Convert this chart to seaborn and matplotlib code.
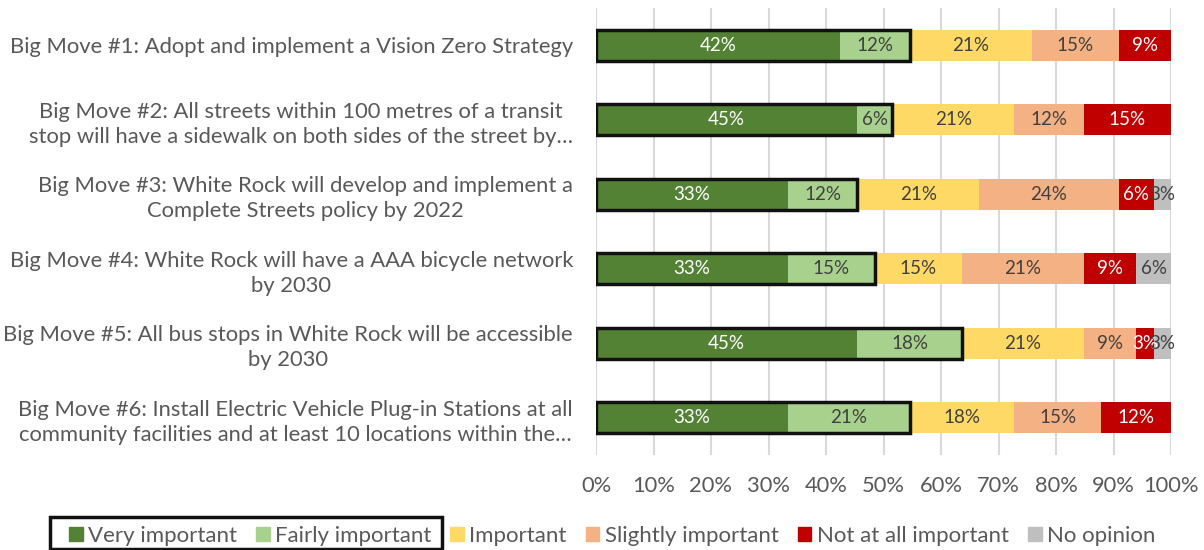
import numpy as np
import pandas as pd
import matplotlib
matplotlib.use("Agg")
import matplotlib.pyplot as plt
from matplotlib.patches import Patch, Rectangle
import seaborn as sns

moves = [
    "Big Move #1: Adopt and implement a Vision Zero Strategy",
    "Big Move #2: All streets within 100 metres of a transit\nstop will have a sidewalk on both sides of the street by…",
    "Big Move #3: White Rock will develop and implement a\nComplete Streets policy by 2022",
    "Big Move #4: White Rock will have a AAA bicycle network\nby 2030",
    "Big Move #5: All bus stops in White Rock will be accessible\nby 2030",
    "Big Move #6: Install Electric Vehicle Plug-in Stations at all\ncommunity facilities and at least 10 locations within the…",
]
levels = ["Very important", "Fairly important", "Important",
          "Slightly important", "Not at all important", "No opinion"]

very = [42.42, 45.45, 33.33, 33.33, 45.45, 33.33]
fairly = [12.12, 6.06, 12.12, 15.15, 18.18, 21.21]
important = [21.21, 21.21, 21.21, 15.15, 21.21, 18.18]
slightly = [15.15, 12.12, 24.24, 21.21, 9.09, 15.15]
not_at_all = [9.09, 15.15, 6.06, 9.09, 3.03, 12.12]
no_opinion = [0.0, 0.0, 3.03, 6.06, 3.03, 0.0]

colors = ["#548235", "#A9D18E", "#FFD966", "#F4B183", "#C00000", "#BFBFBF"]
text_colors = ["white", "#404040", "#404040", "#404040", "white", "#404040"]

sns.set_theme(style="white")
plt.rcParams["font.family"] = ["Lato", "DejaVu Sans"]

df = pd.DataFrame(dict(zip(levels, [very, fairly, important, slightly, not_at_all, no_opinion])),
                  index=moves)
cum = df.cumsum(axis=1)

fig = plt.figure(figsize=(12.04, 5.5), dpi=100)
ax = fig.add_axes([596 / 1204, 1 - 455 / 550, 575 / 1204, 447 / 550])

bar_h = 0.41
# draw cumulative totals back to front so each level shows as its own segment
for lvl, col in reversed(list(zip(levels, colors))):
    sns.barplot(x=cum[lvl].values, y=moves, color=col, saturation=1,
                width=bar_h, orient="h", ax=ax, linewidth=0)

for i, move in enumerate(moves):
    left = 0
    for lvl, tc in zip(levels, text_colors):
        v = df.loc[move, lvl]
        if v > 0:
            ax.text(left + v / 2, i, f"{v:.0f}%", ha="center", va="center",
                    color=tc, fontsize=13.5)
        left += v
    ax.add_patch(Rectangle((0, i - bar_h / 2), df.loc[move, levels[0]] + df.loc[move, levels[1]],
                           bar_h, fill=False, ec="#111111", lw=2.5, zorder=5))

ax.set_xlim(0, 100)
ax.set_ylim(5.5, -0.5)
ax.set_xticks(np.arange(0, 101, 10))
ax.set_xticklabels([f"{t}%" for t in range(0, 101, 10)])
ax.xaxis.grid(True, color="#D9D9D9", lw=1.5)
ax.set_axisbelow(True)
sns.despine(ax=ax, left=True, bottom=True)
ax.tick_params(axis="x", length=0, pad=15, labelsize=15.75, labelcolor="#595959")
ax.tick_params(axis="y", length=0, pad=16.5, labelsize=15.8, labelcolor="#595959")
for t in ax.get_yticklabels():
    t.set_multialignment("center")
    t.set_linespacing(1.3)
ax.set_xlabel("")
ax.set_ylabel("")

handles = [Patch(color=c) for c in colors]
leg_kw = dict(loc="center left", frameon=False, fontsize=16.0, handlelength=0.62,
              handleheight=0.62, handletextpad=0.24, columnspacing=0.86,
              borderpad=0, borderaxespad=0, labelcolor="#595959")
fig.legend(handles[:2], levels[:2], ncol=2, bbox_to_anchor=(69 / 1204, 1 - 536 / 550), **leg_kw)
fig.legend(handles[2:], levels[2:], ncol=4, bbox_to_anchor=(450 / 1204, 1 - 536 / 550), **leg_kw)
# black outline around the first two legend entries
fig.patches.append(Rectangle((50 / 1204, 1 - 549 / 550), 392 / 1204, 32 / 550, fill=False,
                             ec="#111111", lw=2.5, transform=fig.transFigure, figure=fig))

fig.savefig("out.png", dpi=100)
